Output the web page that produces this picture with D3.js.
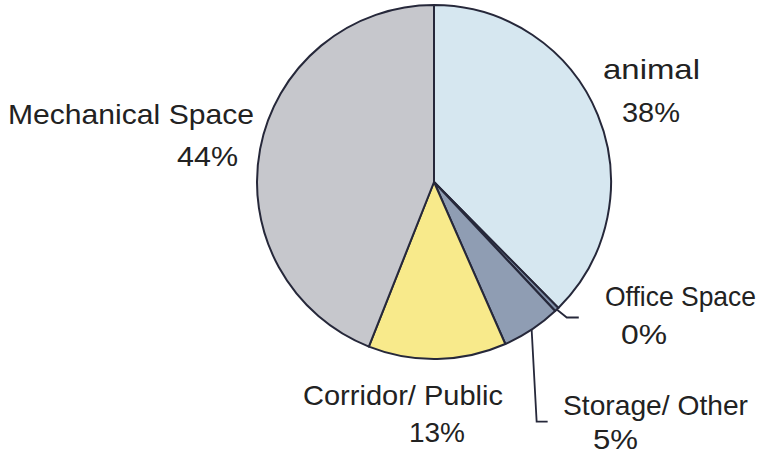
<!DOCTYPE html>
<html lang="en">
  <head>
    <meta charset="UTF-8" />
    <title>Space Use</title>
    <script src="https://d3js.org/d3.v7.min.js"></script>
    <style>
      body {
        margin: 0;
        background: #fff;
        overflow: hidden;
      }
      text {
        font-family: "Liberation Sans", Arial, sans-serif;
        fill: #222;
      }
    </style>
  </head>
  <body>
    <svg width="764" height="454"></svg>

    <script>
      // Slices, clockwise from 12 o'clock
      const categories = ["animal", "Office Space", "Storage/ Other", "Corridor/ Public", "Mechanical Space"];
      const values = [37.6, 0.4, 5.4, 12.6, 44.0];
      const colors = ["#d6e7f0", "#7f8fa8", "#8f9db3", "#f8ea8b", "#c6c7cc"];

      const svg = d3.select("svg");
      const cx = 434, cy = 182, r = 177;

      const pie = d3.pie().sort(null).value(d => d.value);
      const arcs = pie(categories.map((c, i) => ({ name: c, value: values[i], color: colors[i] })));
      const arc = d3.arc().innerRadius(0).outerRadius(r);
      const rim = d3.arc().innerRadius(r).outerRadius(r);

      const g = svg.append("g").attr("transform", `translate(${cx},${cy})`);

      g.selectAll("path")
        .data(arcs)
        .join("path")
        .attr("d", arc)
        .attr("fill", d => d.data.color)
        .attr("stroke", "#26283a")
        .attr("stroke-width", 2)
        .attr("stroke-linejoin", "round");

      // label placement: [x, baseline, width] for name and percent
      const labelPos = {
        "animal": { name: [603, 79, 97], pct: [622, 122, 58] },
        "Office Space": { name: [605, 306, 151], pct: [621, 344, 46] },
        "Storage/ Other": { name: [563, 415, 185], pct: [593, 449, 45] },
        "Corridor/ Public": { name: [303, 405, 200], pct: [409, 442, 56] },
        "Mechanical Space": { name: [8, 124, 246], pct: [177, 166, 61] }
      };

      arcs.forEach(d => {
        const p = labelPos[d.data.name];
        svg.append("text")
          .attr("x", p.name[0]).attr("y", p.name[1])
          .attr("font-size", 28)
          .attr("textLength", p.name[2])
          .attr("lengthAdjust", "spacingAndGlyphs")
          .text(d.data.name);
        svg.append("text")
          .attr("x", p.pct[0]).attr("y", p.pct[1])
          .attr("font-size", 28)
          .attr("textLength", p.pct[2])
          .attr("lengthAdjust", "spacingAndGlyphs")
          .text(Math.round(d.data.value) + "%");
      });

      // leader lines from the rim for the small slices
      const leaders = {
        "Office Space": [[10, 8], [22, 8]],
        "Storage/ Other": [[5, 92], [16, 92]]
      };
      arcs.filter(d => leaders[d.data.name]).forEach(d => {
        const [x0, y0] = rim.centroid(d);
        const pts = [[x0, y0]].concat(leaders[d.data.name].map(([dx, dy]) => [x0 + dx, y0 + dy]));
        g.append("path")
          .attr("d", d3.line()(pts))
          .attr("fill", "none")
          .attr("stroke", "#26283a")
          .attr("stroke-width", 1.8);
      });
    </script>
  </body>
</html>
